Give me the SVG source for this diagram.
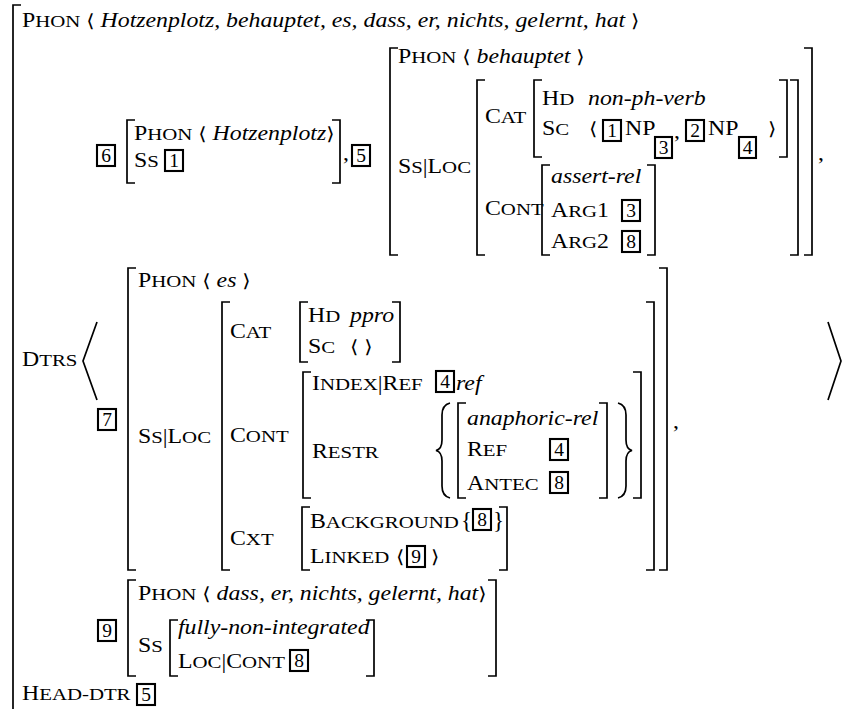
<svg xmlns="http://www.w3.org/2000/svg" width="842" height="709" viewBox="0 0 842 709">
<style>
  .t { font-family: "Liberation Serif", "Times New Roman", serif; font-size: 20px; fill: #000; }
  .sc { font-size: 17.5px; }
  .it { font-style: italic; }
  .a { font-family: "DejaVu Serif", "DejaVu Sans", serif; font-size: 18px; }
  .n { font-family: "Liberation Serif", "Times New Roman", serif; font-size: 19.5px; text-anchor: middle; fill: #000; }
  .u { font-family: "Liberation Serif", "Times New Roman", serif; font-size: 23px; fill: #000; }
  .br { fill: none; stroke: #000; stroke-width: 1.7; }
  .tag { fill: none; stroke: #000; stroke-width: 2.1; }
</style>
<rect width="842" height="709" fill="#fff"/>

<!-- outer AVM -->
<g id="outer">
  <path class="br" d="M21,5 H13 V709"/>
  <text class="t" transform="translate(22,27) scale(1.19,1)">P<tspan class="sc">HON</tspan> <tspan class="a">⟨</tspan> <tspan class="it">Hotzenplotz, behauptet, es, dass, er, nichts, gelernt, hat</tspan> <tspan class="a">⟩</tspan></text>
  <text class="t" transform="translate(22,366) scale(1.19,1)">D<tspan class="sc">TRS</tspan></text>
  <polyline class="br" points="97,322 83,361 97,400"/>
  <polyline class="br" points="828,322 841,361 828,400"/>
  <text class="t" transform="translate(22,700) scale(1.19,1)">H<tspan class="sc">EAD-DTR</tspan></text>
  <rect class="tag" x="137" y="684" width="18" height="21"/><text class="n" x="146" y="701">5</text>
</g>

<!-- daughter 6 -->
<g id="dtr6">
  <rect class="tag" x="97" y="145" width="18" height="21"/><text class="n" x="106" y="162">6</text>
  <path class="br" d="M135,120 H127 V183 H135"/>
  <path class="br" d="M332,120 H340 V183 H332"/>
  <text class="t" transform="translate(134,140) scale(1.19,1)">P<tspan class="sc">HON</tspan> <tspan class="a">⟨</tspan> <tspan class="it">Hotzenplotz</tspan><tspan class="a">⟩</tspan></text>
  <text class="t" transform="translate(134,167) scale(1.19,1)">S<tspan class="sc">S</tspan></text>
  <rect class="tag" x="165" y="150" width="18" height="21"/><text class="n" x="174" y="167">1</text>
  <text class="t" transform="translate(343,160) scale(1.19,1)">,</text>
</g>

<!-- daughter 5 -->
<g id="dtr5">
  <rect class="tag" x="352" y="145" width="18" height="21"/><text class="n" x="361" y="162">5</text>
  <path class="br" d="M398,48 H390 V255 H398"/>
  <path class="br" d="M804,48 H812 V255 H804"/>
  <text class="t" transform="translate(398,63) scale(1.19,1)">P<tspan class="sc">HON</tspan> <tspan class="a">⟨</tspan> <tspan class="it">behauptet</tspan> <tspan class="a">⟩</tspan></text>
  <text class="t" transform="translate(398,173) scale(1.19,1)">S<tspan class="sc">S</tspan>|L<tspan class="sc">OC</tspan></text>
  <path class="br" d="M485,80 H477 V255 H485"/>
  <path class="br" d="M790,80 H798 V255 H790"/>
  <text class="t" transform="translate(485,123) scale(1.19,1)">C<tspan class="sc">AT</tspan></text>
  <path class="br" d="M542,80 H534 V157 H542"/>
  <path class="br" d="M779,80 H787 V157 H779"/>
  <text class="t" transform="translate(542,105) scale(1.19,1)">H<tspan class="sc">D</tspan></text>
  <text class="t it" transform="translate(588,105) scale(1.19,1)">non-ph-verb</text>
  <text class="t" transform="translate(542,135) scale(1.19,1)">S<tspan class="sc">C</tspan></text>
  <text class="t" transform="translate(589,135) scale(1.19,1)"><tspan class="a">⟨</tspan></text>
  <rect class="tag" x="603" y="120" width="18" height="21"/><text class="n" x="612" y="137">1</text>
  <text class="t" transform="translate(625,135) scale(1.19,1)">NP</text>
  <rect class="tag" x="655" y="137" width="17" height="21"/><text class="n" x="663.5" y="154">3</text>
  <text class="t" transform="translate(674,138) scale(1.19,1)">,</text>
  <rect class="tag" x="686" y="120" width="18" height="21"/><text class="n" x="695" y="137">2</text>
  <text class="t" transform="translate(708,135) scale(1.19,1)">NP</text>
  <rect class="tag" x="739" y="137" width="17" height="21"/><text class="n" x="747.5" y="154">4</text>
  <text class="t" transform="translate(768,135) scale(1.19,1)"><tspan class="a">⟩</tspan></text>
  <text class="t" transform="translate(485,215) scale(1.19,1)">C<tspan class="sc">ONT</tspan></text>
  <path class="br" d="M550,165 H542 V255 H550"/>
  <path class="br" d="M647,165 H655 V255 H647"/>
  <text class="t it" transform="translate(551,183) scale(1.19,1)">assert-rel</text>
  <text class="t" transform="translate(551,217) scale(1.19,1)">A<tspan class="sc">RG</tspan>1</text>
  <rect class="tag" x="622" y="200" width="18" height="21"/><text class="n" x="631" y="217">3</text>
  <text class="t" transform="translate(551,248) scale(1.19,1)">A<tspan class="sc">RG</tspan>2</text>
  <rect class="tag" x="622" y="231" width="18" height="21"/><text class="n" x="631" y="248">8</text>
  <text class="t" transform="translate(818,160) scale(1.19,1)">,</text>
</g>

<!-- daughter 7 -->
<g id="dtr7">
  <rect class="tag" x="98" y="409" width="18" height="21"/><text class="n" x="107" y="426">7</text>
  <path class="br" d="M136,268 H128 V570 H136"/>
  <path class="br" d="M659,268 H667 V570 H659"/>
  <text class="t" transform="translate(138,287) scale(1.19,1)">P<tspan class="sc">HON</tspan> <tspan class="a">⟨</tspan> <tspan class="it">es</tspan> <tspan class="a">⟩</tspan></text>
  <text class="t" transform="translate(138,443) scale(1.19,1)">S<tspan class="sc">S</tspan>|L<tspan class="sc">OC</tspan></text>
  <path class="br" d="M230,302 H222 V570 H230"/>
  <path class="br" d="M646,302 H654 V570 H646"/>
  <text class="t" transform="translate(230,338) scale(1.19,1)">C<tspan class="sc">AT</tspan></text>
  <path class="br" d="M308,302 H300 V362 H308"/>
  <path class="br" d="M392,302 H400 V362 H392"/>
  <text class="t" transform="translate(308,322) scale(1.19,1)">H<tspan class="sc">D</tspan></text>
  <text class="t it" transform="translate(350,322) scale(1.19,1)">ppro</text>
  <text class="t" transform="translate(308,353) scale(1.19,1)">S<tspan class="sc">C</tspan></text>
  <text class="t" transform="translate(350,353) scale(1.19,1)"><tspan class="a">⟨</tspan> <tspan class="a">⟩</tspan></text>
  <text class="t" transform="translate(230,442) scale(1.19,1)">C<tspan class="sc">ONT</tspan></text>
  <path class="br" d="M311,372 H303 V498 H311"/>
  <path class="br" d="M633,372 H641 V498 H633"/>
  <text class="t" transform="translate(312,390) scale(1.19,1)">I<tspan class="sc">NDEX</tspan>|R<tspan class="sc">EF</tspan></text>
  <rect class="tag" x="436" y="371" width="18" height="21"/><text class="n" x="445" y="388">4</text>
  <text class="t it" transform="translate(456,390) scale(1.19,1)">ref</text>
  <text class="t" transform="translate(312,458) scale(1.19,1)">R<tspan class="sc">ESTR</tspan></text>
  <path class="br" stroke-width="2.5" d="M450,403 Q442,405 442,415 L442,440 Q442,449 436,450.5 Q442,452 442,461 L442,486 Q442,496 450,498"/>
  <path class="br" d="M466,403 H458 V498 H466"/>
  <path class="br" d="M599,403 H607 V498 H599"/>
  <path class="br" stroke-width="2.5" d="M618,403 Q626,405 626,415 L626,440 Q626,449 632,450.5 Q626,452 626,461 L626,486 Q626,496 618,498"/>
  <text class="t it" transform="translate(467,425) scale(1.19,1)">anaphoric-rel</text>
  <text class="t" transform="translate(467,456) scale(1.19,1)">R<tspan class="sc">EF</tspan></text>
  <rect class="tag" x="550" y="439" width="18" height="21"/><text class="n" x="559" y="456">4</text>
  <text class="t" transform="translate(467,490) scale(1.19,1)">A<tspan class="sc">NTEC</tspan></text>
  <rect class="tag" x="550" y="472" width="18" height="21"/><text class="n" x="559" y="489">8</text>
  <text class="t" transform="translate(230,545) scale(1.19,1)">C<tspan class="sc">XT</tspan></text>
  <path class="br" d="M310,507 H302 V570 H310"/>
  <path class="br" d="M499,507 H507 V570 H499"/>
  <text class="t" transform="translate(310,528) scale(1.19,1)">B<tspan class="sc">ACKGROUND</tspan></text>
  <text class="u" x="461" y="528">{</text>
  <rect class="tag" x="473" y="509" width="18" height="21"/><text class="n" x="482" y="526">8</text>
  <text class="u" x="493" y="528">}</text>
  <text class="t" transform="translate(310,563) scale(1.19,1)">L<tspan class="sc">INKED</tspan></text>
  <text class="t" transform="translate(396,563) scale(1.19,1)"><tspan class="a">⟨</tspan></text>
  <rect class="tag" x="407" y="546" width="18" height="21"/><text class="n" x="416" y="563">9</text>
  <text class="t" transform="translate(431,563) scale(1.19,1)"><tspan class="a">⟩</tspan></text>
  <text class="t" transform="translate(673,428) scale(1.19,1)">,</text>
</g>

<!-- daughter 9 -->
<g id="dtr9">
  <rect class="tag" x="98" y="620" width="18" height="21"/><text class="n" x="107" y="637">9</text>
  <path class="br" d="M136,580 H128 V676 H136"/>
  <path class="br" d="M488,580 H496 V676 H488"/>
  <text class="t" transform="translate(138,600) scale(1.19,1)">P<tspan class="sc">HON</tspan> <tspan class="a">⟨</tspan> <tspan class="it">dass, er, nichts, gelernt, hat</tspan><tspan class="a">⟩</tspan></text>
  <text class="t" transform="translate(138,652) scale(1.19,1)">S<tspan class="sc">S</tspan></text>
  <path class="br" d="M178,620 H170 V676 H178"/>
  <path class="br" d="M366,620 H374 V676 H366"/>
  <text class="t it" transform="translate(178,634) scale(1.19,1)">fully-non-integrated</text>
  <text class="t" transform="translate(178,668) scale(1.19,1)">L<tspan class="sc">OC</tspan>|C<tspan class="sc">ONT</tspan></text>
  <rect class="tag" x="290" y="650" width="18" height="21"/><text class="n" x="299" y="667">8</text>
</g>
</svg>
